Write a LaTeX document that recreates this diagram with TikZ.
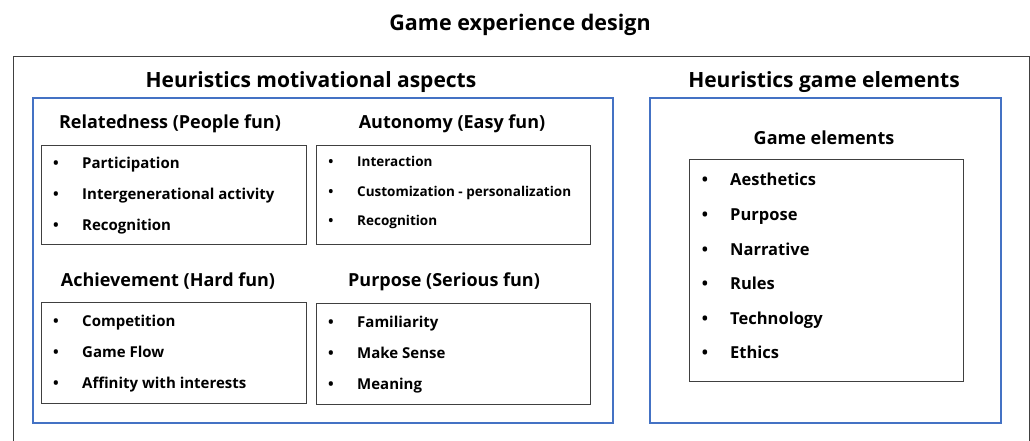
\documentclass[tikz,border=0pt]{standalone}
\usepackage{fontspec}
\setmainfont{Open Sans}
\definecolor{frameblue}{HTML}{4472C4}
\definecolor{boxgray}{HTML}{404040}

\tikzset{
  bluebox/.style={draw=frameblue, line width=1.6pt, anchor=north west, inner sep=0pt},
  listbox/.style={draw=boxgray, line width=0.8pt, anchor=north west, inner sep=0pt},
  heading/.style={anchor=center, yshift=-2pt, font=\bfseries\fontsize{18}{21}\selectfont},
  bigtitle/.style={anchor=center, yshift=-3pt, font=\bfseries\fontsize{21}{25}\selectfont},
  item/.style={anchor=west, yshift=-3pt, text height=0.75em, text depth=0.25em,
               font=\bfseries\fontsize{15}{18}\selectfont},
  smallitem/.style={item, font=\bfseries\fontsize{13.5}{16}\selectfont},
  bigitem/.style={item, font=\bfseries\fontsize{16.5}{20}\selectfont},
  bulletmark/.style={anchor=center}
}

\begin{document}
\begin{tikzpicture}[x=1pt, y=-1pt, every node/.style={inner sep=0pt}]
  \useasboundingbox (0,0) rectangle (1030,441);

  % outer frame, open at the bottom
  \node[draw=boxgray, line width=0.8pt, anchor=north west,
        minimum width=1016pt, minimum height=430pt] (frame) at (13,56) {};
  \node[bigtitle, font=\bfseries\fontsize{21.5}{25}\selectfont] (title) at (520,22) {Game experience design};

  % motivational aspects
  \node[bigtitle] (motiv) at (311,79) {Heuristics motivational aspects};
  \node[bluebox, minimum width=580pt, minimum height=325pt] (motivbox) at (32,97) {};

  \node[heading] (relhead) at (170,122) {Relatedness (People fun)};
  \node[listbox, minimum width=265pt, minimum height=99pt] (relbox) at (41,145) {};
  \node[item, bulletmark] (relb1) at (56,163) {•};
  \node[item, bulletmark] (relb2) at (56,194) {•};
  \node[item, bulletmark] (relb3) at (56,225) {•};
  \node[item] (rel1) at (82,163) {Participation};
  \node[item] (rel2) at (82,194) {Intergenerational activity};
  \node[item] (rel3) at (82,225) {Recognition};

  \node[heading] (authead) at (452,122) {Autonomy (Easy fun)};
  \node[listbox, minimum width=274pt, minimum height=99pt] (autbox) at (316,145) {};
  \node[smallitem, bulletmark] (autb1) at (331,161) {•};
  \node[smallitem, bulletmark] (autb2) at (331,191) {•};
  \node[smallitem, bulletmark] (autb3) at (331,220) {•};
  \node[smallitem] (aut1) at (357,161) {Interaction};
  \node[smallitem] (aut2) at (357,191) {Customization - personalization};
  \node[smallitem] (aut3) at (357,220) {Recognition};

  \node[heading] (achhead) at (168,279) {Achievement (Hard fun)};
  \node[listbox, minimum width=265pt, minimum height=101pt] (achbox) at (41,302) {};
  \node[item, bulletmark] (achb1) at (56,321) {•};
  \node[item, bulletmark] (achb2) at (56,352) {•};
  \node[item, bulletmark] (achb3) at (56,383) {•};
  \node[item] (ach1) at (82,321) {Competition};
  \node[item] (ach2) at (82,352) {Game Flow};
  \node[item] (ach3) at (82,383) {Affinity with interests};

  \node[heading] (purhead) at (444,280) {Purpose (Serious fun)};
  \node[listbox, minimum width=274pt, minimum height=101pt] (purbox) at (316,303) {};
  \node[item, bulletmark] (purb1) at (331,322) {•};
  \node[item, bulletmark] (purb2) at (331,353) {•};
  \node[item, bulletmark] (purb3) at (331,384) {•};
  \node[item] (pur1) at (357,322) {Familiarity};
  \node[item] (pur2) at (357,353) {Make Sense};
  \node[item] (pur3) at (357,384) {Meaning};

  % game elements
  \node[bigtitle] (gamehead) at (824,79) {Heuristics game elements};
  \node[bluebox, minimum width=351pt, minimum height=325pt] (gamebox) at (649,97) {};
  \node[heading] (elhead) at (824,136) {Game elements};
  \node[listbox, minimum width=274pt, minimum height=222pt] (elbox) at (689,159) {};
  \node[bigitem, bulletmark] (elb1) at (705,180) {•};
  \node[bigitem, bulletmark] (elb2) at (705,215) {•};
  \node[bigitem, bulletmark] (elb3) at (705,250) {•};
  \node[bigitem, bulletmark] (elb4) at (705,284) {•};
  \node[bigitem, bulletmark] (elb5) at (705,319) {•};
  \node[bigitem, bulletmark] (elb6) at (705,353) {•};
  \node[bigitem] (el1) at (730,180) {Aesthetics};
  \node[bigitem] (el2) at (730,215) {Purpose};
  \node[bigitem] (el3) at (730,250) {Narrative};
  \node[bigitem] (el4) at (730,284) {Rules};
  \node[bigitem] (el5) at (730,319) {Technology};
  \node[bigitem] (el6) at (730,353) {Ethics};
\end{tikzpicture}
\end{document}
